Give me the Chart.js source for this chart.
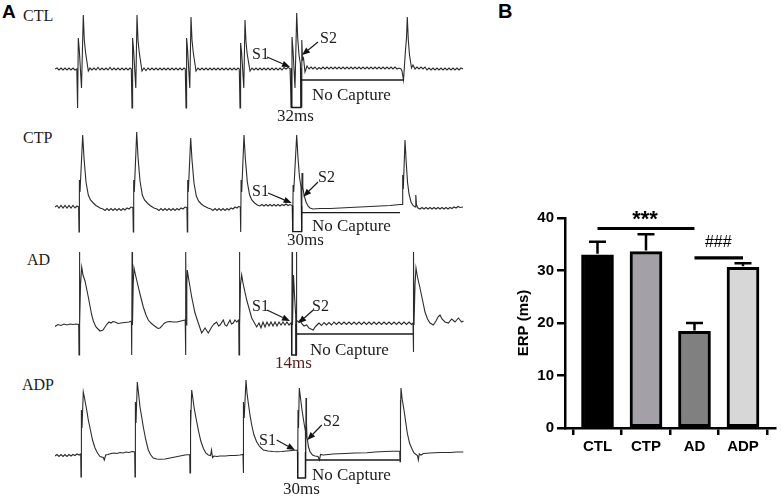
<!DOCTYPE html>
<html><head><meta charset="utf-8">
<script src="https://cdn.jsdelivr.net/npm/chart.js@4.4.1/dist/chart.umd.min.js"></script>
<style>
html,body{margin:0;padding:0;background:#fff;}
#wrap{position:relative;width:782px;height:499px;overflow:hidden;background:#fff;}
#wrap canvas{position:absolute;}
.t{position:absolute;white-space:nowrap;line-height:1;color:#1c1c1c;}
.serif{font-family:"Liberation Serif","Times New Roman",serif;}
.sans{font-family:"Liberation Sans",Arial,sans-serif;font-weight:bold;color:#000;}
</style></head><body>
<div id="wrap">
<canvas id="cvCTL" width="410" height="125" style="left:55px;top:0px;width:410px;height:125px"></canvas>
<canvas id="cvCTP" width="410" height="120" style="left:55px;top:125px;width:410px;height:120px"></canvas>
<canvas id="cvAD" width="410" height="125" style="left:55px;top:245px;width:410px;height:125px"></canvas>
<canvas id="cvADP" width="410" height="129" style="left:55px;top:370px;width:410px;height:129px"></canvas>
<canvas id="cvBar" width="267" height="300" style="left:515px;top:190px;width:267px;height:300px"></canvas>
</div>
<script>
// ---------- Panel A: recorded traces, [sample, amplitude (a.u.)] ----------
const ctlTrace = [[0,0],[2,1],[4,-1],[6,1],[8,-1],[10,1],[12,-1],[14,1],[16,-1],[18,1],[20,-1],[21.8,0],
[22.6,-39],[23.3,31],[24.3,19],[26.5,-19],[28.3,54],[29.3,29],[30.5,17],[33.3,-2],
[35,1],[37,-1],[39,1],[41,-1],[43,1.5],[45,-1],[47,1],[49,-1],[51,1],[53,-1],[55,1.5],[57,-1],[59,1],[61,-1],[63,1],[65,-1],[67,1],[69,-1],[71,1],[73,-1],[75,1],[76.3,0],
[77,-39],[77.6,31],[78.6,19],[80.8,-19],[82,54],[83,29],[84.2,17],[87,-2],
[89,1],[91,-1.5],[93,1],[95,-1],[97,1],[99,-1],[101,1],[103,-1],[105,1],[107,-1],[109,1],[111,-1],[113,1],[115,-1],[117,1],[119,-1],[121,1],[123,-1],[125,1],[127,-1],[129,1],[130.3,0],
[131,-39],[131.6,31],[132.6,19],[134.8,-19],[136,52],[137,29],[138.2,17],[141,-2],
[143,1],[145,-1],[147,1],[149,-1],[151,1],[153,-1],[155,1],[157,-1],[159,1],[161,-1],[163,1],[165,-1],[167,1],[169,-1],[171,1],[173,-1],[175,1],[177,-1],[179,1],[181,-1],[183,1],[184.3,0],
[185,-39],[185.6,26],[186.6,17],[188.8,-19],[190,49],[191,27],[192.2,15],[195,-2],
[197,1],[199,-1],[201,1],[203,-1],[205,1],[207,-1],[209,1],[211,-1],[213,1],[215,-1],[217,1],[219,-1],[221,1],[223,-1],[225,1],[227,-1],[229,1.5],[231,0],[233,1.5],[235,0.5],
[236.3,-38],[237,32],[238,19],[240,-19],[241.7,56],[242.7,31],[244,14],[245.4,5],[246,-38],[246.8,29],[247.5,9],[248.5,11],[250,-3],[252,3],
[254,0],[256,2],[258,0],[260,2],[262,-0.5],[264,1.5],[266,0],[268,2],[270,0],[272,2],[274,0],[276,2],[278,0],[280,2],[282,0],[284,2],[286,0],[288,2],[290,0],[292,2],[294,0],[296,2],[298,0],[300,2],[302,0],[304,2],[306,0],[308,2],[310,0],[312,2],[314,0],[316,2],[318,0],[320,2],[322,0],[324,2],[326,0],[328,2],[330,0],[332,2],[334,0],[336,2],[338,0],[340,2],[342,0],[344,1],[346,0],
[347,-2],[348.5,-11],[350.5,19],[351.5,31],[352.3,52],[353.3,29],[354.5,14],[356.5,1],[358,4],[360,0],
[362,2],[364,0],[366,2],[368,0],[370,2],[372,-1],[374,1],[376,-1],[378,1],[380,-1],[382,1],[384,-1],[386,1],[388,-1],[390,1],[392,-1],[394,1],[396,-1],[398,1],[400,-1],[402,1],[404,-1],[406,1],[408,0]];

const ctpTrace = [[0,0],[2,1.5],[4,-1],[6,1.5],[8,-1],[10,1.5],[12,-1],[14,1.5],[16,-1],[18,1.5],[20,-1],[22,1],[23.6,0],
[24,-25],[24.4,27],[25,15],[27.7,72],[29,49],[31,25],[33.3,12],[35.5,7],[38.3,4],[41,1.5],[45,-1],[48,-2],[50,-3.5],
[52,-1.5],[54,-3.5],[56,-1.5],[58,-3.5],[60,-1.5],[62,-3.5],[64,-1.5],[66,-3.5],[68,-1.5],[70,-3],[72,-1],[74,-2],[76,0],[77.9,-0.5],
[78.3,-25],[78.7,27],[79.3,15],[81.7,75],[83,50],[85,26],[87.3,12],[89.5,7],[92.3,4],[95,1.5],[99,-1],[102,-2],[104,-3.5],
[106,-1.5],[108,-3.5],[110,-1.5],[112,-3.5],[114,-1.5],[116,-3.5],[118,-1.5],[120,-3.5],[122,-1.5],[124,-3],[126,-1],[128,-2],[130,0],[131.9,-0.5],
[132.3,-25],[132.7,27],[133.3,15],[135.7,69],[137,47],[139,24],[141.3,11],[143.5,6],[146.3,3],[149,1],[153,-1],[156,-2],[158,-3.5],
[160,-1.5],[162,-3.5],[164,-1.5],[166,-3.5],[168,-1.5],[170,-3.5],[172,-1.5],[174,-3],[176,-1],[178,-2],[180,0],[182,-1],[183.5,0.5],[185.3,0],
[185.7,-25],[186.1,27],[186.7,15],[189,72],[190.3,49],[192.3,25],[194.6,12],[196.8,7],[199.6,4],[202.3,2],[205,1],
[207,2.5],[209,1],[211,2.5],[213,1],[215,2.5],[217,1],[219,2.5],[221,1],[223,2.5],[225,1],[227,2.5],[229,1.5],[231,3],[233,1.5],[235,2.5],[237.2,1.5],
[237.7,-25],[238.1,22],[238.7,15],[241.7,72],[243,49],[244.5,30],[246,20],[246.7,-25],[247,34],[247.8,20],[249,12],[251,5],[253,1],[255,-1],[258,-2],
[265,-1.5],[275,-1.5],[285,-1],[295,-0.5],[305,0],[315,0.5],[325,1],[335,1.5],[345,2.5],[347.5,2.5],
[347.7,32],[348.3,18],[350,67],[351.2,45],[352.5,25],[354,13],[356,5],[358,1.5],[360,0],[360.8,12],[361.5,2],[363,-1],[365,-2],
[367,-0.5],[369,-2],[371,-0.5],[373,-2],[375,-0.5],[377,-2],[379,-0.5],[381,-2],[383,-0.5],[385,-2],[387,-0.5],[389,-2],[391,-0.5],[393,-2],[395,-0.5],[397,-1.5],[399,0],[401,-1],[403,0.5],[405,-0.5],[408,0]];

const adTrace = [[0,-1.5],[3,0.5],[6,-0.5],[9,1],[12,0],[15,1],[18,0.5],[21,1],[23.7,0.5],
[24,-30],[24.4,73],[24.8,0],[25.5,40],[26.7,58],[28,50],[30,44],[33.3,28],[36.7,10],[38.3,4],[41,-2],[43,-4],[45,-6],[48,-5],[50,-2],[52,1],[54,3],[56,2],[58,3.5],[60,3],[63,1.5],[66,2],[70,2.5],[74,3],[76.4,4],
[76.7,-30],[77.1,73],[77.5,0],[78.2,40],[79,57],[80.5,50],[83.3,38],[86,27],[88.3,18],[91,10],[93.3,5],[96,2],[98.3,0],[101,-2],[103,-3.5],[105,-3],[107,-1],[109,1.5],[111.7,3],[115,3.5],[118,3],[122,3],[126,4],[130.2,5],
[130.5,-30],[130.9,73],[131.3,0],[131.8,40],[132.3,55],[133.5,47],[136.7,28],[140,12],[143.3,2],[146.7,-8],[150,-3],[153.3,-8],[156.7,-2],[159,1],[161.7,3],[163.5,-1],[165,0],[168.3,5],[170,0],[171.7,-1],[175,5],[176.5,1],[178.3,2],[180,5],[181.7,3],[183.7,5],
[184,-30],[184.4,73],[184.8,0],[185.5,40],[186.7,50],[188,42],[191.7,25],[196.7,7],[201.7,-2],[204,2],[206,-3],[208,3],[210,-2],[212,3],[214,-1],[216,3],[218,-1],[220,3],[222,-1],[224,3],[226,0],[228,3],[230,0],[232,3],[234,0],[236.4,2.5],
[236.7,-30],[237.1,73],[237.5,0],[238.5,50],[239.5,30],[240.7,10],[241,-30],[241.4,73],[241.8,5],[243.3,3],[245,5],[247,1],[249,-1],[251.7,0],[254,-3],[256,-4],[258.3,-5],[260,-2],[262,0],[264,2],
[266.5,-0.5],[269,2.5],[271.5,0],[274,2.5],[276.5,0],[279,3],[281.5,0.5],[284,3],[286.5,0.5],[289,3],[291.5,0.5],[294,3],[296.5,0.5],[299,3],[301.5,0.5],[304,3],[306.5,0.5],[309,3],[311.5,0.5],[314,3],[316.5,0.5],[319,3],[321.5,0.5],[324,3],[326.5,0.5],[329,3],[331.5,0.5],[334,3],[336.5,0.5],[339,3],[341.5,0.5],[344,3],[346.5,0.5],[349,3],[351.5,0.5],[354,3],[356.5,0.5],[358,2],
[358.3,-27],[358.7,73],[359,0],[360,40],[361,57],[362.5,48],[365,37],[367.5,25],[370,13],[372.5,6],[375,2],[378.3,0],[381,4],[383,8],[385,10],[387,6],[390,3],[393.3,2],[396.7,6],[400,3],[403.3,7],[406.7,3],[408.5,4]];

const adpTrace = [[0,-3],[2,-1.5],[4,-3.5],[6,-1.5],[8,-3.5],[10,-1.5],[12,-3.5],[14,-1.5],[16,-3],[18,-1.5],[20,-2.5],[22,-1],[24,-2],[25.7,-1],
[26,-24],[26.4,43],[27,25],[28.3,61],[29.5,55],[31.7,43],[33.3,33],[35,25],[37.5,13],[40,5],[42.5,0],[45,-3.5],[48.3,-4.5],[49.3,-7],[50.7,-2],[53,-1.5],[56,-0.5],[59,0],[62,-0.5],[65,0.5],[68,0],[71,1],[74,0.5],[77,1.5],[79.7,1],
[80,-24],[80.4,51],[81,30],[82.3,71],[83.5,60],[85,46],[86.7,36],[88.3,26],[90.8,13],[93.3,3],[95.8,-2],[98.3,-5],[101.5,-6],[105,-6.3],[110,-6],[115,-5],[120,-4],[125,-3],[130,-2],[134.7,-1.5],
[135,-20],[135.3,43],[135.8,25],[136.7,63],[137.8,55],[139,46],[141,35],[143.3,23],[145.8,12],[148.3,4.7],[150.8,0],[153.3,-2],[155.5,-2.5],[156.5,3],[157.5,-4.5],[159,-3],[162,-3.5],[165,-3],[170,-3],[175,-2.5],[180,-2.5],[185,-2],[188,-1.5],
[188.3,-20],[188.6,51],[189.2,35],[191,73],[192,60],[193.3,50],[195,38],[196.7,28],[199,18],[201.7,11],[205,6],[208.3,3],[213,2],[218,1.5],[222,1.3],[227,1.5],[232,2],[237,2.5],[242.4,3],
[242.7,-25],[243,43],[243.5,25],[244.3,65],[245.5,55],[247,43],[249,30],[250.4,22],[250.7,-25],[251,55],[251.5,30],[252,16],[253.5,6],[255,1.3],[257.5,-2],[260,-3],[263,-3.5],[264.5,-7],[265.5,-1.5],[268.3,-2],[278,-1],[290,-0.5],[300,0],[312,0.3],[320,1],[330,1.5],[344.7,2],
[345,-8.7],[345.3,53],[345.7,40],[346,65],[347,55],[349,43],[350.7,31],[352.3,20],[354.5,10],[356.7,4.7],[359,0],[361.7,-2],[362.5,-2.5],[363.3,-7],[364.3,-1],[366,-2],[368.3,-0.5],[375,0],[385,0.5],[395,0.5],[402,1],[408.3,1]];

const traceNames = ['CTL','CTP','AD','ADP'];
const intervalLabels = ['32ms','30ms','14ms','30ms'];
// S1–S2 interval box [left, right, bottom] and "No Capture" bracket [from, to, level] in trace units
const s1s2Box = [[236.3,246,-38.5],[237.7,246.7,-24.7],[236.7,241,-30],[242.7,250.4,-25]];
const noCapture = [[246,348.5,-11],[246.7,345,-5.7],[241,358.3,-9],[250.7,344.8,-7]];
// arrows [tailX, tailY, headX, headY] for S1 and S2
const s1Arrows = [[212,12,235,2],[213,14,236.7,4],[212,15,235,4],[221.7,13,240,3]];
const s2Arrows = [[263,27,247,14],[263,25,248.3,10.3],[258.3,15,243.3,1.7],[266.7,28,252.3,13]];

// ---------- Panel B: ERP ----------
const groups = ['CTL','CTP','AD','ADP'];
const erpMean = [33.0, 33.6, 18.4, 30.6];
const erpSem = [2.5, 3.3, 1.6, 0.8];
const yTicks = [0,10,20,30,40];
const sigPairs = [[0,2,38.0],[2,3,32.4]];
const sigLabels = ['***','###'];

// ---------- text helper ----------
const wrap = document.getElementById('wrap');
function label(txt, x, base, size, cls, extra){
  const d = document.createElement('div');
  d.className = 't ' + cls;
  d.textContent = txt;
  d.style.fontSize = size + 'px';
  d.style.left = x + 'px';
  d.style.top = (base - (cls === 'sans' ? 0.85 : 0.84) * size) + 'px';
  if (extra) Object.assign(d.style, extra);
  wrap.appendChild(d);
  return d;
}

// ---------- trace charts ----------
function arrow(ctx, x1, y1, x2, y2){
  const ang = Math.atan2(y2 - y1, x2 - x1), L = 8, W = 3.2;
  const bx = x2 - L * Math.cos(ang), by = y2 - L * Math.sin(ang);
  ctx.beginPath(); ctx.moveTo(x1, y1); ctx.lineTo(bx, by); ctx.stroke();
  ctx.beginPath();
  ctx.moveTo(x2, y2);
  ctx.lineTo(bx + W * Math.sin(ang), by - W * Math.cos(ang));
  ctx.lineTo(bx - W * Math.sin(ang), by + W * Math.cos(ang));
  ctx.closePath(); ctx.fill();
}
function traceChart(id, pts, idx, yMin, yMax){
  const marks = {
    id: 'marks',
    afterDatasetsDraw(chart){
      const ctx = chart.ctx, xs = chart.scales.x, ys = chart.scales.y;
      const px = v => xs.getPixelForValue(v), py = v => ys.getPixelForValue(v);
      ctx.save();
      ctx.strokeStyle = '#1a1a1a'; ctx.fillStyle = '#111'; ctx.lineWidth = 1.3;
      const b = s1s2Box[idx];
      ctx.beginPath();
      ctx.moveTo(px(b[0]), py(1)); ctx.lineTo(px(b[0]), py(b[2]));
      ctx.lineTo(px(b[1]), py(b[2])); ctx.lineTo(px(b[1]), py(1));
      ctx.stroke();
      const n = noCapture[idx];
      ctx.beginPath(); ctx.moveTo(px(n[0]), py(n[2])); ctx.lineTo(px(n[1]), py(n[2])); ctx.stroke();
      ctx.lineWidth = 1.2;
      [s1Arrows[idx], s2Arrows[idx]].forEach(a => arrow(ctx, px(a[0]), py(a[1]), px(a[2]), py(a[3])));
      ctx.restore();
    }
  };
  return new Chart(document.getElementById(id), {
    type: 'line',
    data: { datasets: [{ data: pts.map(p => ({x: p[0], y: p[1]})), borderColor: '#2b2b2b', borderWidth: 1.1,
      pointRadius: 0, tension: 0, fill: false, clip: false }] },
    options: {
      responsive: false, animation: false, events: [],
      layout: { padding: 0 },
      scales: { x: { type: 'linear', display: false, min: 0, max: 410 },
                y: { type: 'linear', display: false, min: yMin, max: yMax } },
      plugins: { legend: { display: false }, tooltip: { enabled: false } }
    },
    plugins: [marks]
  });
}
traceChart('cvCTL', ctlTrace, 0, -56, 69);
traceChart('cvCTP', ctpTrace, 1, -38, 82);
traceChart('cvAD', adTrace, 2, -45, 80);
traceChart('cvADP', adpTrace, 3, -46, 83);

// panel A text
label('A', 2, 18.5, 19, 'sans');
const nameLoc = [[23,21],[23,143],[27,265.5],[22,390]];
const s1Loc = [[252,59],[252,196.5],[252,311.5],[259,445]];
const s2Loc = [[320,43],[318,182],[312,311.5],[323,426]];
const ncLoc = [[312,100],[312,231.5],[310,355],[312,480.5]];
const msLoc = [[277,121.5],[287,245.5],[275,368],[283,494]];
traceNames.forEach((nm, i) => {
  label(nm, nameLoc[i][0], nameLoc[i][1], 16, 'serif');
  label('S1', s1Loc[i][0], s1Loc[i][1], 16, 'serif');
  label('S2', s2Loc[i][0], s2Loc[i][1], 16, 'serif');
  label('No Capture', ncLoc[i][0], ncLoc[i][1], 17, 'serif');
  label(intervalLabels[i], msLoc[i][0], msLoc[i][1], 17, 'serif', i === 2 ? {color:'#5a1c1c'} : null);
});

// ---------- bar chart ----------
const barColors = ['#000000','#a3a1a7','#808080','#d7d7d7'];
const barMarks = {
  id: 'barMarks',
  afterDatasetsDraw(chart){
    const ctx = chart.ctx, xs = chart.scales.x, ys = chart.scales.y;
    ctx.save();
    ctx.strokeStyle = '#000'; ctx.lineWidth = 2.5; ctx.lineCap = 'butt';
    erpMean.forEach((m, i) => {
      const cx = xs.getPixelForValue(i), y0 = ys.getPixelForValue(m), y1 = ys.getPixelForValue(m + erpSem[i]);
      ctx.beginPath(); ctx.moveTo(cx, y0 - 1); ctx.lineTo(cx, y1);
      ctx.moveTo(cx - 8.5, y1); ctx.lineTo(cx + 8.5, y1); ctx.stroke();
    });
    ctx.lineWidth = 3.2;
    sigPairs.forEach(s => {
      const y = ys.getPixelForValue(s[2]);
      ctx.beginPath(); ctx.moveTo(xs.getPixelForValue(s[0]), y); ctx.lineTo(xs.getPixelForValue(s[1]), y); ctx.stroke();
    });
    ctx.restore();
  }
};
new Chart(document.getElementById('cvBar'), {
  type: 'bar',
  data: { datasets: [{ data: groups.map((g, i) => ({x: i, y: erpMean[i]})), backgroundColor: barColors,
    borderColor: '#000', borderWidth: 3, borderSkipped: false, barThickness: 32 }] },
  options: {
    responsive: false, animation: false, events: [],
    layout: { padding: { left: 0, right: 7, top: 28, bottom: 22 } },
    scales: {
      x: { type: 'linear', min: -0.67, max: 3.66, offset: false,
        afterBuildTicks: s => { s.ticks = groups.map((g, i) => ({value: i})); },
        grid: { display: true, drawOnChartArea: false, drawTicks: true, tickLength: 7, color: '#000', lineWidth: 2.5 },
        border: { display: true, color: '#000', width: 2.5 },
        ticks: { callback: v => groups[v], autoSkip: false, maxRotation: 0, padding: 3, color: '#000',
          font: { family: 'Liberation Sans, Arial, sans-serif', weight: 'bold', size: 15 } },
        afterFit: s => { s.height = 40; } },
      y: { type: 'linear', min: 0, max: 40,
        afterBuildTicks: s => { s.ticks = yTicks.map(v => ({value: v})); },
        grid: { display: true, drawOnChartArea: false, drawTicks: true, tickLength: 8, color: '#000', lineWidth: 2.5 },
        border: { display: true, color: '#000', width: 2.5 },
        ticks: { padding: 3, color: '#000', font: { family: 'Liberation Sans, Arial, sans-serif', weight: 'bold', size: 15 } },
        title: { display: true, text: 'ERP (ms)', color: '#000', padding: { top: 0, bottom: 2 },
          font: { family: 'Liberation Sans, Arial, sans-serif', weight: 'bold', size: 15 } },
        afterFit: s => { s.width = 50; } }
    },
    plugins: { legend: { display: false }, tooltip: { enabled: false } }
  },
  plugins: [barMarks]
});

// panel B text
label('B', 498, 17.5, 20, 'sans');
label(sigLabels[0], 645, 227, 22, 'sans', {transform: 'translateX(-50%)'});
label(sigLabels[1], 718, 247.5, 16, 'sans', {transform: 'translateX(-50%)', fontWeight: 'normal', fontStyle: 'italic'});
</script>
</body></html>
